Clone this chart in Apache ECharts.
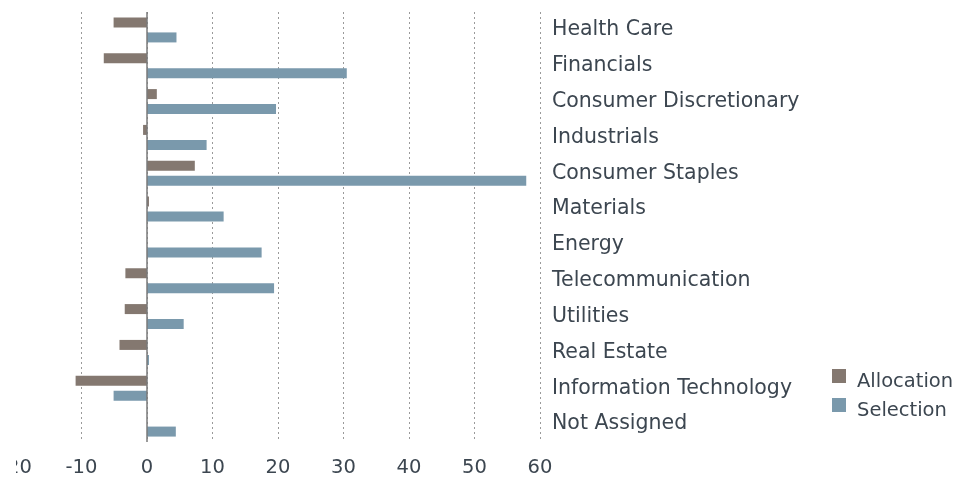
<!DOCTYPE html>
<html>
<head>
<meta charset="utf-8">
<script src="https://cdn.jsdelivr.net/npm/echarts@6/dist/echarts.min.js"></script>
<style>
html,body{margin:0;padding:0;background:#fff;width:956px;height:478px;overflow:hidden;}
#wrap{position:absolute;left:16px;top:0;width:940px;height:478px;overflow:hidden;}
#chart{width:940px;height:478px;}
</style>
</head>
<body>
<div id="wrap"><div id="chart"></div></div>
<script>
const categories = ["Health Care","Financials","Consumer Discretionary","Industrials","Consumer Staples","Materials","Energy","Telecommunication","Utilities","Real Estate","Information Technology","Not Assigned"];
const allocation = [-5.1, -6.6, 1.5, -0.6, 7.3, 0.3, 0, -3.3, -3.4, -4.2, -10.9, 0];
const selection = [4.5, 30.5, 19.7, 9.1, 57.9, 11.7, 17.5, 19.4, 5.6, 0.3, -5.1, 4.4];
const seriesNames = ["Allocation", "Selection"];
const xMin = -20, xMax = 60, xStep = 10;

const textColor = '#3c4650';
const font = 'DejaVu Sans, Verdana, sans-serif';
const fs = 19.5;
const chart = echarts.init(document.getElementById('chart'), null, {renderer: 'canvas'});
const gridColors = [];
for (let v = xMin; v <= xMax; v += xStep) gridColors.push(v === xMin ? 'rgba(0,0,0,0)' : '#9a9a9a');

chart.setOption({
  animation: false,
  backgroundColor: '#fff',
  grid: {left: 0, top: 12, width: 524, height: 430, containLabel: false, outerBoundsMode: 'none'},
  legend: {
    orient: 'vertical', left: 811, top: 364, itemWidth: 14, itemHeight: 26, itemGap: 3,
    icon: 'path://M0,0h14v14h-14zM13.99,25.99h0.01v0.01h-0.01z',
    textStyle: {fontFamily: font, fontSize: fs, color: textColor, padding: [0, 0, 0, 6]},
    data: seriesNames
  },
  xAxis: {
    type: 'value', min: xMin, max: xMax, interval: xStep,
    axisLine: {show: false}, axisTick: {show: false},
    axisLabel: {fontFamily: font, fontSize: fs, color: textColor, margin: 16},
    splitLine: {show: true, lineStyle: {color: gridColors, type: [2, 3], width: 1}}
  },
  yAxis: {
    type: 'category', data: categories, inverse: true, position: 'right',
    axisLine: {show: false}, axisTick: {show: false},
    axisLabel: {fontFamily: font, fontSize: 20.5, color: textColor, margin: 12, align: 'left', padding: [4, 0, 0, 0]}
  },
  series: [
    {
      name: seriesNames[0], type: 'bar', data: allocation, barWidth: 10, barGap: '50%',
      itemStyle: {color: '#847870'},
      markLine: {
        silent: true, symbol: 'none', label: {show: false},
        lineStyle: {color: '#7a7a7a', type: 'solid', width: 1.5},
        data: [{xAxis: 0}]
      }
    },
    {
      name: seriesNames[1], type: 'bar', data: selection, barWidth: 10, barGap: '50%',
      itemStyle: {color: '#7a99ac'}
    }
  ]
});
</script>
</body>
</html>
